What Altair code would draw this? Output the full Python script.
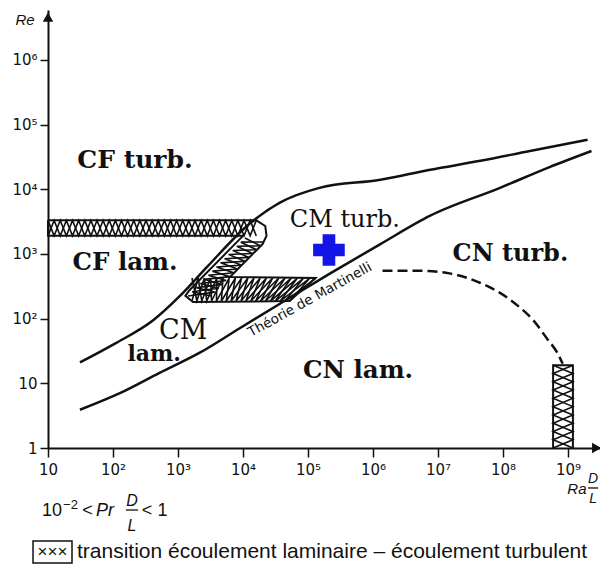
import json
import altair as alt
import numpy as np
import pandas as pd

# ---------------- axes ----------------
X_TICKS = [1e1, 1e2, 1e3, 1e4, 1e5, 1e6, 1e7, 1e8, 1e9]
X_TICK_LABELS = ["10", "10²", "10³", "10⁴", "10⁵", "10⁶", "10⁷", "10⁸", "10⁹"]
Y_TICKS = [1, 1e1, 1e2, 1e3, 1e4, 1e5, 1e6]
Y_TICK_LABELS = ["1", "10", "10²", "10³", "10⁴", "10⁵", "10⁶"]
X_DOMAIN = [10, 10 ** 9.4923]
Y_DOMAIN = [1, 10 ** 6.77]

# ---------------- curves (Ra·D/L , Re) ----------------
CURVE_A_RA = [31, 107, 420, 1070, 2800, 1.3e4, 3.7e4, 1.5e5, 1.3e6, 7.6e6, 4.5e7, 2.6e8, 2.0e9]
CURVE_A_RE = [21, 41, 95, 224, 630, 3000, 6200, 1.05e4, 1.4e4, 2.0e4, 2.75e4, 3.9e4, 5.8e4]

CURVE_B_RA = [31, 130, 520, 2200, 8900, 3.7e4, 2.2e5, 1.3e6, 7.6e6, 9e7, 5.2e8, 2.3e9]
CURVE_B_RE = [3.9, 7.1, 14.5, 30, 71, 170, 500, 1420, 3900, 1.05e4, 2.2e4, 3.9e4]

DASHED_RA = [1.4e6, 5.2e6, 1.5e7, 4.5e7, 9e7, 1.8e8, 2.9e8, 4.9e8, 6.8e8, 8.3e8]
DASHED_RE = [550, 550, 500, 355, 250, 150, 95, 47, 30, 20]

# ---------------- transition (hatched) zones ----------------
Z_OUTLINE_RA = [10, 1.6e4, 2.2e4, 2.3e4, 2.0e4, 6300, 1.3e5, 5.2e4, 1700, 1300, 1500, 1.0e4, 10, 10]
Z_OUTLINE_RE = [3300, 3300, 2700, 1900, 1420, 440, 425, 187, 180, 225, 275, 1900, 1900, 3300]

V_OUTLINE_RA = [5.9e8, 5.9e8, 1.19e9, 1.19e9]
V_OUTLINE_RE = [1, 19, 19, 1]

# bands: (edge A start, edge A end, edge B start, edge B end, number of crosses)
HATCH_BANDS = [
    ((10, 3300), (1.6e4, 3300), (10, 1900), (1.6e4, 1900), 17),
    ((1430, 224), (1.07e4, 1760), (3220, 224), (2.1e4, 1530), 7),
    ((1640, 424), (1.33e5, 424), (1640, 187), (5.3e4, 187), 10),
    ((5.9e8, 1), (5.9e8, 19), (1.19e9, 1), (1.19e9, 19), 5),
]

# ---------------- labels ----------------
BOLD_LABELS = ["CF turb.", "CF lam.", "lam.", "CN turb.", "CN lam."]
BOLD_RA = [218, 153, 430, 1.3e8, 5.9e5]
BOLD_RE = [2.8e4, 720, 28, 1000, 15.5]
BOLD_SIZE = [25, 24.5, 22, 24, 24.5]

REG_LABELS = ["CM", "CM turb."]
REG_RA = [1200, 3.7e5]
REG_RE = [64, 3300]
REG_SIZE = [27, 24]

MARKER_RA = [2.1e5]
MARKER_RE = [1150]

CURVE_NOTE = "Théorie de Martinelli"
CURVE_NOTE_RA = [1.07e5]
CURVE_NOTE_RE = [195]

# notes below the plot and axis titles (positions in data units)
SANS_TEXT = ["10", "−2", "<", "<", "1", "×××"]
SANS_RA = [11.5, 22.2, 40.5, 333, 578, 11.7]
SANS_RE = [0.106, 0.1315, 0.106, 0.106, 0.106, 0.0247]
SANS_SIZE = [18, 13, 18, 18, 18, 17]

LEGEND_TEXT = ["transition écoulement laminaire – écoulement turbulent"]
LEGEND_RA = [27.9]
LEGEND_RE = [0.0247]

ITALIC_TEXT = ["Re", "Ra", "D", "L", "Pr", "D", "L"]
ITALIC_RA = [4.43, 1.37e9, 2.43e9, 2.43e9, 75.3, 196, 196]
ITALIC_RE = [4.12e6, 0.232, 0.332, 0.163, 0.106, 0.152, 0.0623]
ITALIC_SIZE = [15, 15, 14, 14, 18, 16, 16]

FRACTION_RA = [158.5, 2.03e9]
FRACTION_RA2 = [242.6, 2.9e9]
FRACTION_RE = [0.110, 0.241]

LEGEND_BOX_RA = [5.88]
LEGEND_BOX_RA2 = [23.4]
LEGEND_BOX_RE = [0.0365]
LEGEND_BOX_RE2 = [0.0167]

ARROW_RA = [10, 10 ** 9.44]
ARROW_RE = [10 ** 6.66, 1]
ARROW_SHAPE = ["triangle-up", "triangle-right"]

INK = "#111111"

# ---------------- scales / axes ----------------
xs = alt.Scale(type="log", domain=X_DOMAIN, nice=False)
ys = alt.Scale(type="log", domain=Y_DOMAIN, nice=False)
x_expr = "%s[round(log(datum.value)/LN10)]" % json.dumps([""] + X_TICK_LABELS, ensure_ascii=False)
y_expr = "%s[round(log(datum.value)/LN10)]" % json.dumps(Y_TICK_LABELS, ensure_ascii=False)

x_axis = alt.Axis(values=X_TICKS, labelExpr=x_expr, title=None, grid=False,
                  domainColor=INK, domainWidth=2, tickColor=INK, tickWidth=1.5,
                  tickSize=9, labelFont="DejaVu Sans", labelFontSize=15,
                  labelColor=INK, labelPadding=5, labelFlush=False,
                  labelOverlap=False, labelBound=False)
y_axis = alt.Axis(values=Y_TICKS, labelExpr=y_expr, title=None, grid=False,
                  domainColor=INK, domainWidth=2, tickColor=INK, tickWidth=1.5,
                  tickSize=8, labelFont="DejaVu Sans", labelFontSize=15,
                  labelColor=INK, labelPadding=3, labelFlush=False,
                  labelOverlap=False, labelBound=False)


def X(field="Ra"):
    return alt.X(f"{field}:Q", scale=xs, axis=x_axis)


def Y(field="Re"):
    return alt.Y(f"{field}:Q", scale=ys, axis=y_axis)


def curve(ra, re, dash=None):
    df = pd.DataFrame({"Ra": ra, "Re": re, "i": range(len(ra))})
    kw = dict(interpolate="monotone", strokeWidth=2.5, color=INK, clip=False)
    if dash:
        kw["strokeDash"] = dash
    return alt.Chart(df).mark_line(**kw).encode(x=X(), y=Y(), order="i:Q")


def zigzags(bands):
    rows = []
    g = 0
    for a0, a1, b0, b1, n in bands:
        la0, la1, lb0, lb1 = [np.log10(p) for p in (a0, a1, b0, b1)]
        for phase in (0, 1):
            for k in range(2 * n + 1):
                t = k / (2 * n)
                on_a = (k + phase) % 2 == 0
                s, e = (la0, la1) if on_a else (lb0, lb1)
                p = s + (e - s) * t
                rows.append({"Ra": 10 ** p[0], "Re": 10 ** p[1], "g": g, "i": k})
            g += 1
    return pd.DataFrame(rows)


def texts(ra, re, txt, size, **mark):
    df = pd.DataFrame({"Ra": ra, "Re": re, "t": txt, "s": size})
    return alt.Chart(df).mark_text(color=INK, baseline="middle", **mark).encode(
        x=X(), y=Y(), text="t:N", size=alt.Size("s:Q", scale=None))


layers = []

# hatching
hatch = alt.Chart(zigzags(HATCH_BANDS)).mark_line(strokeWidth=1.6, color=INK, clip=False).encode(
    x=X(), y=Y(), detail="g:N", order="i:Q")
layers.append(hatch)

z_df = pd.DataFrame({"Ra": Z_OUTLINE_RA, "Re": Z_OUTLINE_RE, "i": range(len(Z_OUTLINE_RA))})
layers.append(alt.Chart(z_df).mark_line(strokeWidth=2, color=INK, clip=False).encode(
    x=X(), y=Y(), order="i:Q"))
v_df = pd.DataFrame({"Ra": V_OUTLINE_RA, "Re": V_OUTLINE_RE, "i": range(len(V_OUTLINE_RA))})
layers.append(alt.Chart(v_df).mark_line(strokeWidth=2, color=INK, clip=False).encode(
    x=X(), y=Y(), order="i:Q"))

# curves
layers.append(curve(CURVE_A_RA, CURVE_A_RE))
layers.append(curve(CURVE_B_RA, CURVE_B_RE))
layers.append(curve(DASHED_RA, DASHED_RE, dash=[10, 5]))

# region labels
layers.append(texts(BOLD_RA, BOLD_RE, BOLD_LABELS, BOLD_SIZE, font="DejaVu Serif",
                    fontWeight="bold", align="center"))
layers.append(texts(REG_RA, REG_RE, REG_LABELS, REG_SIZE, font="DejaVu Serif", align="center"))
layers.append(texts(CURVE_NOTE_RA, CURVE_NOTE_RE, [CURVE_NOTE], [13.5], font="DejaVu Sans",
                    angle=331, align="center"))

# blue marker
mk_df = pd.DataFrame({"Ra": MARKER_RA, "Re": MARKER_RE})
layers.append(alt.Chart(mk_df).mark_point(shape="cross", size=1000, filled=True, color="#1414e6",
                                          opacity=1, strokeWidth=0).encode(x=X(), y=Y()))

# axis arrows
ar_df = pd.DataFrame({"Ra": ARROW_RA, "Re": ARROW_RE, "sh": ARROW_SHAPE})
layers.append(alt.Chart(ar_df).mark_point(size=110, filled=True, color=INK, opacity=1, clip=False).encode(
    x=X(), y=Y(), shape=alt.Shape("sh:N", scale=None)))

# texts outside the plot
layers.append(texts(SANS_RA, SANS_RE, SANS_TEXT, SANS_SIZE, font="Liberation Sans", align="center"))
layers.append(texts(LEGEND_RA, LEGEND_RE, LEGEND_TEXT, [21], font="Liberation Sans", align="left"))
layers.append(texts(ITALIC_RA, ITALIC_RE, ITALIC_TEXT, ITALIC_SIZE, font="Liberation Sans",
                    fontStyle="italic", align="center"))

fr_df = pd.DataFrame({"Ra": FRACTION_RA, "Ra2": FRACTION_RA2, "Re": FRACTION_RE})
layers.append(alt.Chart(fr_df).mark_rule(color=INK, strokeWidth=1.3).encode(
    x=X(), x2="Ra2:Q", y=Y()))

lb_df = pd.DataFrame({"Ra": LEGEND_BOX_RA, "Ra2": LEGEND_BOX_RA2, "Re": LEGEND_BOX_RE, "Re2": LEGEND_BOX_RE2})
layers.append(alt.Chart(lb_df).mark_rect(fill="white", fillOpacity=0, stroke=INK, strokeWidth=1.5).encode(
    x=X(), x2="Ra2:Q", y=Y(), y2="Re2:Q"))

chart = alt.layer(*layers).properties(
    width=552, height=438,
    padding={"left": 40, "top": 2, "right": 0, "bottom": 116},
    autosize=alt.AutoSizeParams(type="none"),
    background="white",
).configure_view(stroke=None)

chart.save("out.html", embed_options={"renderer": "svg", "actions": False})
